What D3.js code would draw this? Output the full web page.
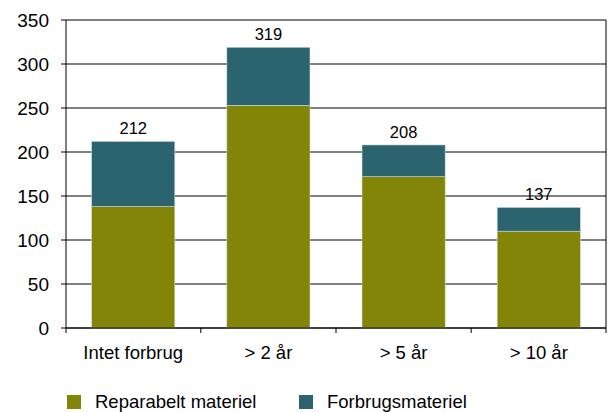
<!DOCTYPE html>
<html>
<head>
<meta charset="utf-8">
<script src="https://cdn.jsdelivr.net/npm/d3@7"></script>
<style>
  body { margin: 0; background: #fff; }
  svg { font-family: "Liberation Sans", Arial, sans-serif; }
</style>
</head>
<body>
<svg id="chart" width="609" height="412"></svg>
<script>
// data
var categories = ["Intet forbrug", "> 2 år", "> 5 år", "> 10 år"];
var reparabelt = [138, 253, 172, 110];
var forbrug = [74, 66, 36, 27];
var totals = [212, 319, 208, 137];
var seriesNames = ["Reparabelt materiel", "Forbrugsmateriel"];
var colors = ["#828508", "#2b636e"];
var yTicks = [0, 50, 100, 150, 200, 250, 300, 350];

var svg = d3.select("#chart");
var plotLeft = 66, plotRight = 606, plotTop = 20, plotBottom = 328;

var x = d3.scaleBand()
  .domain(categories)
  .range([plotLeft, plotRight])
  .paddingInner(0.385)
  .paddingOuter(0.19);

var y = d3.scaleLinear().domain([0, 350]).range([plotBottom, plotTop]);

// gridlines
svg.append("g")
  .selectAll("line")
  .data(yTicks)
  .enter()
  .append("line")
    .attr("x1", plotLeft - 5)
    .attr("x2", plotRight)
    .attr("y1", function(d){ return y(d) })
    .attr("y2", function(d){ return y(d) })
    .attr("stroke", "#000")
    .attr("stroke-width", 1);

// y tick labels
svg.append("g")
  .selectAll("text")
  .data(yTicks)
  .enter()
  .append("text")
    .attr("x", 49)
    .attr("y", function(d){ return y(d) + 7 })
    .attr("text-anchor", "end")
    .attr("font-size", 19)
    .attr("fill", "#000")
    .text(function(d){ return d });

// stacked bars
var stackData = categories.map(function(c, i){
  return {cat: c, rep: reparabelt[i], forb: forbrug[i]};
});
var stack = d3.stack().keys(["rep", "forb"])(stackData);

svg.append("g")
  .selectAll("g")
  .data(stack)
  .enter()
  .append("g")
    .attr("fill", function(d, i){ return colors[i] })
  .selectAll("rect")
  .data(function(d){ return d })
  .enter()
  .append("rect")
    .attr("x", function(d){ return x(d.data.cat) })
    .attr("width", x.bandwidth())
    .attr("y", function(d){ return y(d[1]) })
    .attr("height", function(d){ return y(d[0]) - y(d[1]) })
    .attr("stroke", "#c8d8d0")
    .attr("stroke-width", 0.6);

// axes: left line, right line, bottom line and category ticks
svg.append("line")
  .attr("x1", plotLeft).attr("x2", plotLeft)
  .attr("y1", plotTop).attr("y2", plotBottom + 5)
  .attr("stroke", "#000");
svg.append("line")
  .attr("x1", plotRight).attr("x2", plotRight)
  .attr("y1", plotTop).attr("y2", plotBottom + 5)
  .attr("stroke", "#000");
svg.append("line")
  .attr("x1", plotLeft).attr("x2", plotRight)
  .attr("y1", plotBottom).attr("y2", plotBottom)
  .attr("stroke", "#000");

var step = x.step();
svg.append("g")
  .selectAll("line")
  .data(categories.slice(1))
  .enter()
  .append("line")
    .attr("x1", function(d){ return x(d) - x.paddingInner() * step / 2 })
    .attr("x2", function(d){ return x(d) - x.paddingInner() * step / 2 })
    .attr("y1", plotBottom)
    .attr("y2", plotBottom + 5)
    .attr("stroke", "#000");

// category labels
svg.append("g")
  .selectAll("text")
  .data(categories)
  .enter()
  .append("text")
    .attr("x", function(d){ return x(d) + x.bandwidth() / 2 })
    .attr("y", 359)
    .attr("text-anchor", "middle")
    .attr("font-size", 18.5)
    .text(function(d){ return d });

// total labels
svg.append("g")
  .selectAll("text")
  .data(totals)
  .enter()
  .append("text")
    .attr("x", function(d, i){ return x(categories[i]) + x.bandwidth() / 2 })
    .attr("y", function(d){ return y(d) - 7 })
    .attr("text-anchor", "middle")
    .attr("font-size", 16.5)
    .text(function(d){ return d });

// legend
var legendX = [67, 299];
var legend = svg.append("g")
  .selectAll("g")
  .data(seriesNames)
  .enter()
  .append("g")
    .attr("transform", function(d, i){ return "translate(" + legendX[i] + ",395)" });
legend.append("rect")
  .attr("width", 14)
  .attr("height", 14)
  .attr("fill", function(d, i){ return colors[i] });
legend.append("text")
  .attr("x", 28)
  .attr("y", 13)
  .attr("font-size", 18.5)
  .text(function(d){ return d });
</script>
</body>
</html>
